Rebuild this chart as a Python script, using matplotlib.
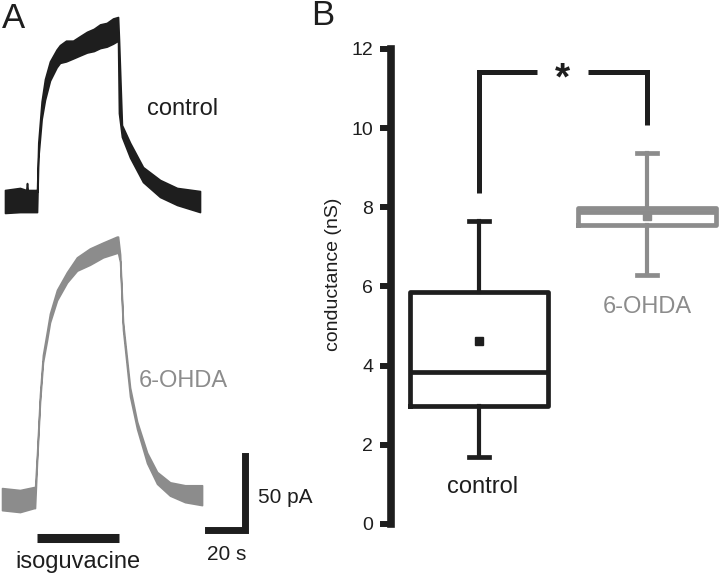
import matplotlib
matplotlib.use("Agg")
import matplotlib.pyplot as plt

plt.rcParams['font.family'] = ['Liberation Sans', 'DejaVu Sans']

BLACK = '#1e1e1e'
GRAY = '#8c8c8c'

# ---- panel A: isoguvacine-evoked currents (time in s, current in pA) ----
# upper / lower edge of the noisy trace
ctrl_t = [0, 8.1, 11.5, 11.9, 12.3, 16.8, 17.3, 18.0, 19.8, 21.6, 24.3, 27.9, 29.7, 33.0,
          36.8, 40.5, 44.3, 48.0, 51.4, 55.0, 58.4, 61.1, 61.6, 63.2, 67.6, 74.6,
          83.8, 93.0, 105.4]
ctrl_hi = [8.1, 9.5, 8.1, 12.8, 8.1, 8.1, 6.8, 40, 68, 83, 95, 103, 106, 109,
           109, 112, 115, 117, 120, 121, 124, 125, 110, 52, 40, 23.6,
           14.9, 9.5, 7.4]
ctrl_lo = [-7.4, -6.8, -6.8, -6.8, -6.8, -6.8, -6.8, 30, 56, 69, 82, 91, 94, 95,
           97, 99, 101, 102, 104, 105, 107, 109, 60, 44, 30, 13.5,
           3.4, -2, -6.8]

ohda_t = [-1.6, 8.1, 15.7, 16.2, 17.3, 18.9, 20.5, 22.7, 24.3, 28.1, 33.5, 38.9, 45.9,
          53.0, 60.5, 61.1, 62.2, 63.8, 67.6, 71.4, 76.8, 82.2, 89.2, 97.3, 106.5]
ohda_hi = [8.1, 6.8, 8.8, 6.8, 31, 71, 98, 114, 126, 142, 154, 164, 170,
           174, 178, 178, 166, 120, 76, 53, 32, 19, 12, 10, 10]
ohda_lo = [-6.8, -8.1, -5.4, -5.4, 26, 66, 93, 108, 120, 135, 147, 155, 159,
           164, 167, 167, 161, 115, 70, 48, 25, 11, 3, -1.4, -3.4]

drug_on, drug_off = 17.3, 61.4
scale_s, scale_pA = 20, 50

# ---- panel B: conductance box plots (nS) ----
groups = ['control', '6-OHDA']
medians = [3.84, 7.88]
q1 = [2.98, 7.54]
q3 = [5.86, 7.98]
whis_lo = [1.68, 6.29]
whis_hi = [7.65, 9.38]
means = [4.61, 7.78]
yticks = [0, 2, 4, 6, 8, 10, 12]

fig = plt.figure(figsize=(7.2, 5.8), dpi=100)

# panel A axes laid out so 1 s = 1.85 px and 1 pA = 1.48 px
axA = fig.add_axes([0, 0, 330 / 720, 1])
axA.set_xlim(-5 / 1.85, 325 / 1.85)
axA.set_ylim(0, 580 / 1.48)
axA.axis('off')

ctrl_off = 255.4
ohda_off = 54.0

axA.fill_between(ctrl_t, [v + ctrl_off for v in ctrl_lo], [v + ctrl_off for v in ctrl_hi],
                 color=BLACK, edgecolor=BLACK, linewidth=1.2)
axA.fill_between(ohda_t, [v + ohda_off for v in ohda_lo], [v + ohda_off for v in ohda_hi],
                 color=GRAY, edgecolor=GRAY, linewidth=1.2)

axA.plot([drug_on, drug_off], [28.4, 28.4], color=BLACK, lw=6.5, solid_capstyle='butt')
axA.text((drug_on + drug_off) / 2, 8.0, 'isoguvacine', ha='center', va='baseline',
         fontsize=17, color=BLACK)

sx, sy = 130, 34.1
axA.plot([sx - scale_s, sx, sx], [sy, sy, sy + scale_pA], color=BLACK, lw=5,
         solid_capstyle='projecting', solid_joinstyle='miter')
axA.text(136.8, 52, '50 pA', ha='left', va='baseline', fontsize=15, color=BLACK)
axA.text(109.2, 13.5, '20 s', ha='left', va='baseline', fontsize=15, color=BLACK)

axA.text(76.8, 314, 'control', ha='left', va='baseline', fontsize=17, color=BLACK)
axA.text(72.4, 130.4, '6-OHDA', ha='left', va='baseline', fontsize=17, color=GRAY)

fig.text(2 / 720, 1 - 28 / 580, 'A', fontsize=25, color=BLACK, ha='left', va='baseline')
fig.text(311 / 720, 1 - 25 / 580, 'B', fontsize=25, color=BLACK, ha='left', va='baseline')

# panel B
axB = fig.add_axes([390.7 / 720, 56 / 580, (720 - 390.7) / 720, (524 - 48.8) / 580])
axB.set_xlim(0.474, 2.4345)
axB.set_ylim(0, 12)

for i, c in enumerate([BLACK, GRAY]):
    st = [dict(med=medians[i], q1=q1[i], q3=q3[i], whislo=whis_lo[i],
               whishi=whis_hi[i], mean=means[i], label=groups[i])]
    axB.bxp(st, positions=[i + 1], widths=0.82, capwidths=0.12, showmeans=True,
            showfliers=False, manage_ticks=False,
            boxprops=dict(color=c, lw=3.4),
            medianprops=dict(color=c, lw=3.4),
            whiskerprops=dict(color=c, lw=3.0),
            capprops=dict(color=c, lw=3.4),
            meanprops=dict(marker='s', markersize=5.5, markerfacecolor=c,
                           markeredgecolor=c))

# significance bracket
axB.plot([1, 1, 1.345], [8.36, 11.41, 11.41], color=BLACK, lw=3.6,
         solid_joinstyle='miter', solid_capstyle='butt', clip_on=False)
axB.plot([1.649, 2, 2], [11.41, 11.41, 10.07], color=BLACK, lw=3.6,
         solid_joinstyle='miter', solid_capstyle='butt', clip_on=False)
axB.text(1.494, 11.22, '*', ha='center', va='center', fontsize=28,
         fontweight='bold', color=BLACK)

axB.text(1.02, 0.78, groups[0], ha='center', va='baseline', fontsize=17, color=BLACK)
axB.text(2.0, 5.33, groups[1], ha='center', va='baseline', fontsize=17, color=GRAY)

for s in ['top', 'right', 'bottom']:
    axB.spines[s].set_visible(False)
axB.spines['left'].set_linewidth(5.5)
axB.spines['left'].set_color(BLACK)
axB.spines['left'].set_bounds(0, 12)
axB.set_xticks([])
axB.set_yticks(yticks)
axB.tick_params(axis='y', length=7.7, width=4.3, color=BLACK, pad=5,
                labelsize=14, labelcolor=BLACK)
axB.set_ylabel('conductance (nS)', fontsize=14, color=BLACK)
axB.yaxis.set_label_coords(-0.148, 0.526)
axB.patch.set_visible(False)

fig.savefig('out.png', dpi=100)
